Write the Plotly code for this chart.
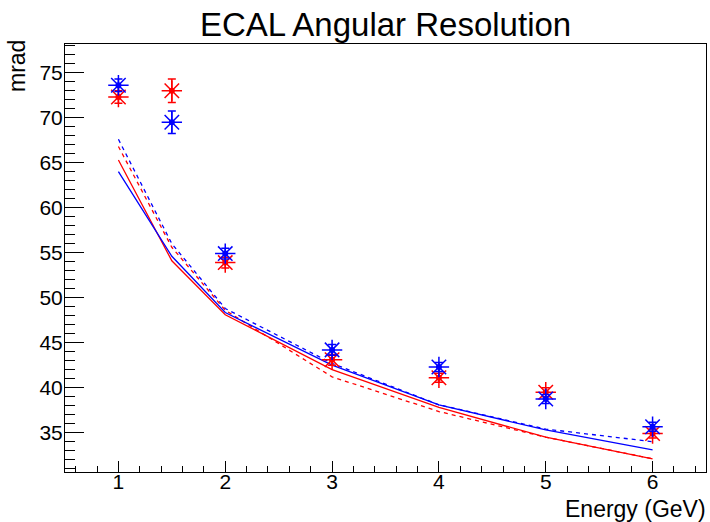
import plotly.graph_objects as go

energy = [1, 1.5, 2, 3, 4, 5, 6]

blue_points = [73.6, 69.5, 54.9, 44.2, 42.3, 38.75, 35.65]
blue_errors = [0.7, 1.25, 0.6, 0.6, 0.5, 0.5, 0.5]
red_points = [72.3, 73.0, 53.9, 43.1, 41.1, 39.5, 34.9]
red_errors = [0.7, 1.3, 0.6, 0.6, 0.5, 0.5, 0.5]

blue_solid = [64.0, 54.6, 48.35, 42.5, 38.1, 35.3, 33.1]
red_solid = [65.3, 54.1, 48.1, 42.0, 37.8, 34.5, 32.1]
blue_dashed = [67.6, 56.0, 48.8, 42.7, 38.1, 35.4, 34.0]
red_dashed = [66.8, 55.6, 48.6, 41.2, 37.35, 34.5, 32.1]

x_ticks = [1, 2, 3, 4, 5, 6]
y_ticks = [35, 40, 45, 50, 55, 60, 65, 70, 75]

BLUE = "#0000ff"
RED = "#ff0000"
FONT = "Liberation Sans, Arial, sans-serif"

fig = go.Figure()

for ys, col, dash in [(red_dashed, RED, "4px,4px"), (blue_dashed, BLUE, "4px,4px"),
                      (red_solid, RED, "solid"), (blue_solid, BLUE, "solid")]:
    fig.add_trace(go.Scatter(x=energy, y=ys, mode="lines",
                             line=dict(color=col, width=1.3, dash=dash),
                             hoverinfo="skip"))

for ys, errs, col in [(red_points, red_errors, RED), (blue_points, blue_errors, BLUE)]:
    fig.add_trace(go.Scatter(
        x=energy, y=ys, mode="markers",
        marker=dict(symbol="asterisk-open", size=17, color=col,
                    line=dict(color=col, width=1.5)),
        error_y=dict(type="data", array=errs, visible=True, color=col,
                     thickness=1.5, width=4)))
    fig.add_trace(go.Scatter(
        x=energy, y=ys, mode="markers",
        marker=dict(symbol="circle", size=6, color=col),
        hoverinfo="skip"))

fig.update_layout(
    width=710, height=522,
    margin=dict(l=65, r=4, t=44, b=50),
    paper_bgcolor="white", plot_bgcolor="white",
    showlegend=False,
    font=dict(family=FONT, size=21, color="black"),
    annotations=[
        dict(text="ECAL Angular Resolution", xref="paper", yref="paper",
             x=0.5, y=1, yanchor="bottom", xanchor="center", yshift=-1,
             showarrow=False, font=dict(size=33, family=FONT, color="black")),
        dict(text="mrad", xref="paper", yref="paper", x=0, y=1,
             xanchor="center", yanchor="top", xshift=-48, yshift=6, textangle=-90,
             showarrow=False, font=dict(size=23, family=FONT, color="black")),
        dict(text="Energy (GeV)", xref="paper", yref="paper", x=1, y=0,
             xanchor="right", yanchor="top", xshift=2, yshift=-22,
             showarrow=False, font=dict(size=23, family=FONT, color="black")),
    ],
)

fig.update_xaxes(
    range=[0.5, 6.5], tickvals=x_ticks, ticktext=[str(v) for v in x_ticks],
    ticks="inside", ticklen=11, tickwidth=1, tickcolor="black",
    minor=dict(dtick=0.2, tick0=0.2, ticks="inside", ticklen=6, tickcolor="black", showgrid=False),
    showline=True, linecolor="black", linewidth=1, mirror=True,
    showgrid=False, zeroline=False, ticklabelstandoff=-9,
    tickfont=dict(size=21, family=FONT, color="black"),
)
fig.update_yaxes(
    range=[30.63, 78.19], tickvals=y_ticks, ticktext=[str(v) for v in y_ticks],
    ticks="inside", ticklen=19, tickwidth=1, tickcolor="black",
    minor=dict(dtick=1, tick0=0, ticks="inside", ticklen=10, tickcolor="black", showgrid=False),
    showline=True, linecolor="black", linewidth=1, mirror=True,
    showgrid=False, zeroline=False, ticklabelstandoff=-3,
    tickfont=dict(size=21, family=FONT, color="black"),
)

# remove the page's default 8px body margin so the figure fills the window exactly
fig.write_html("out.html", config={"displayModeBar": False},
               post_script="document.body.style.margin='0';")
